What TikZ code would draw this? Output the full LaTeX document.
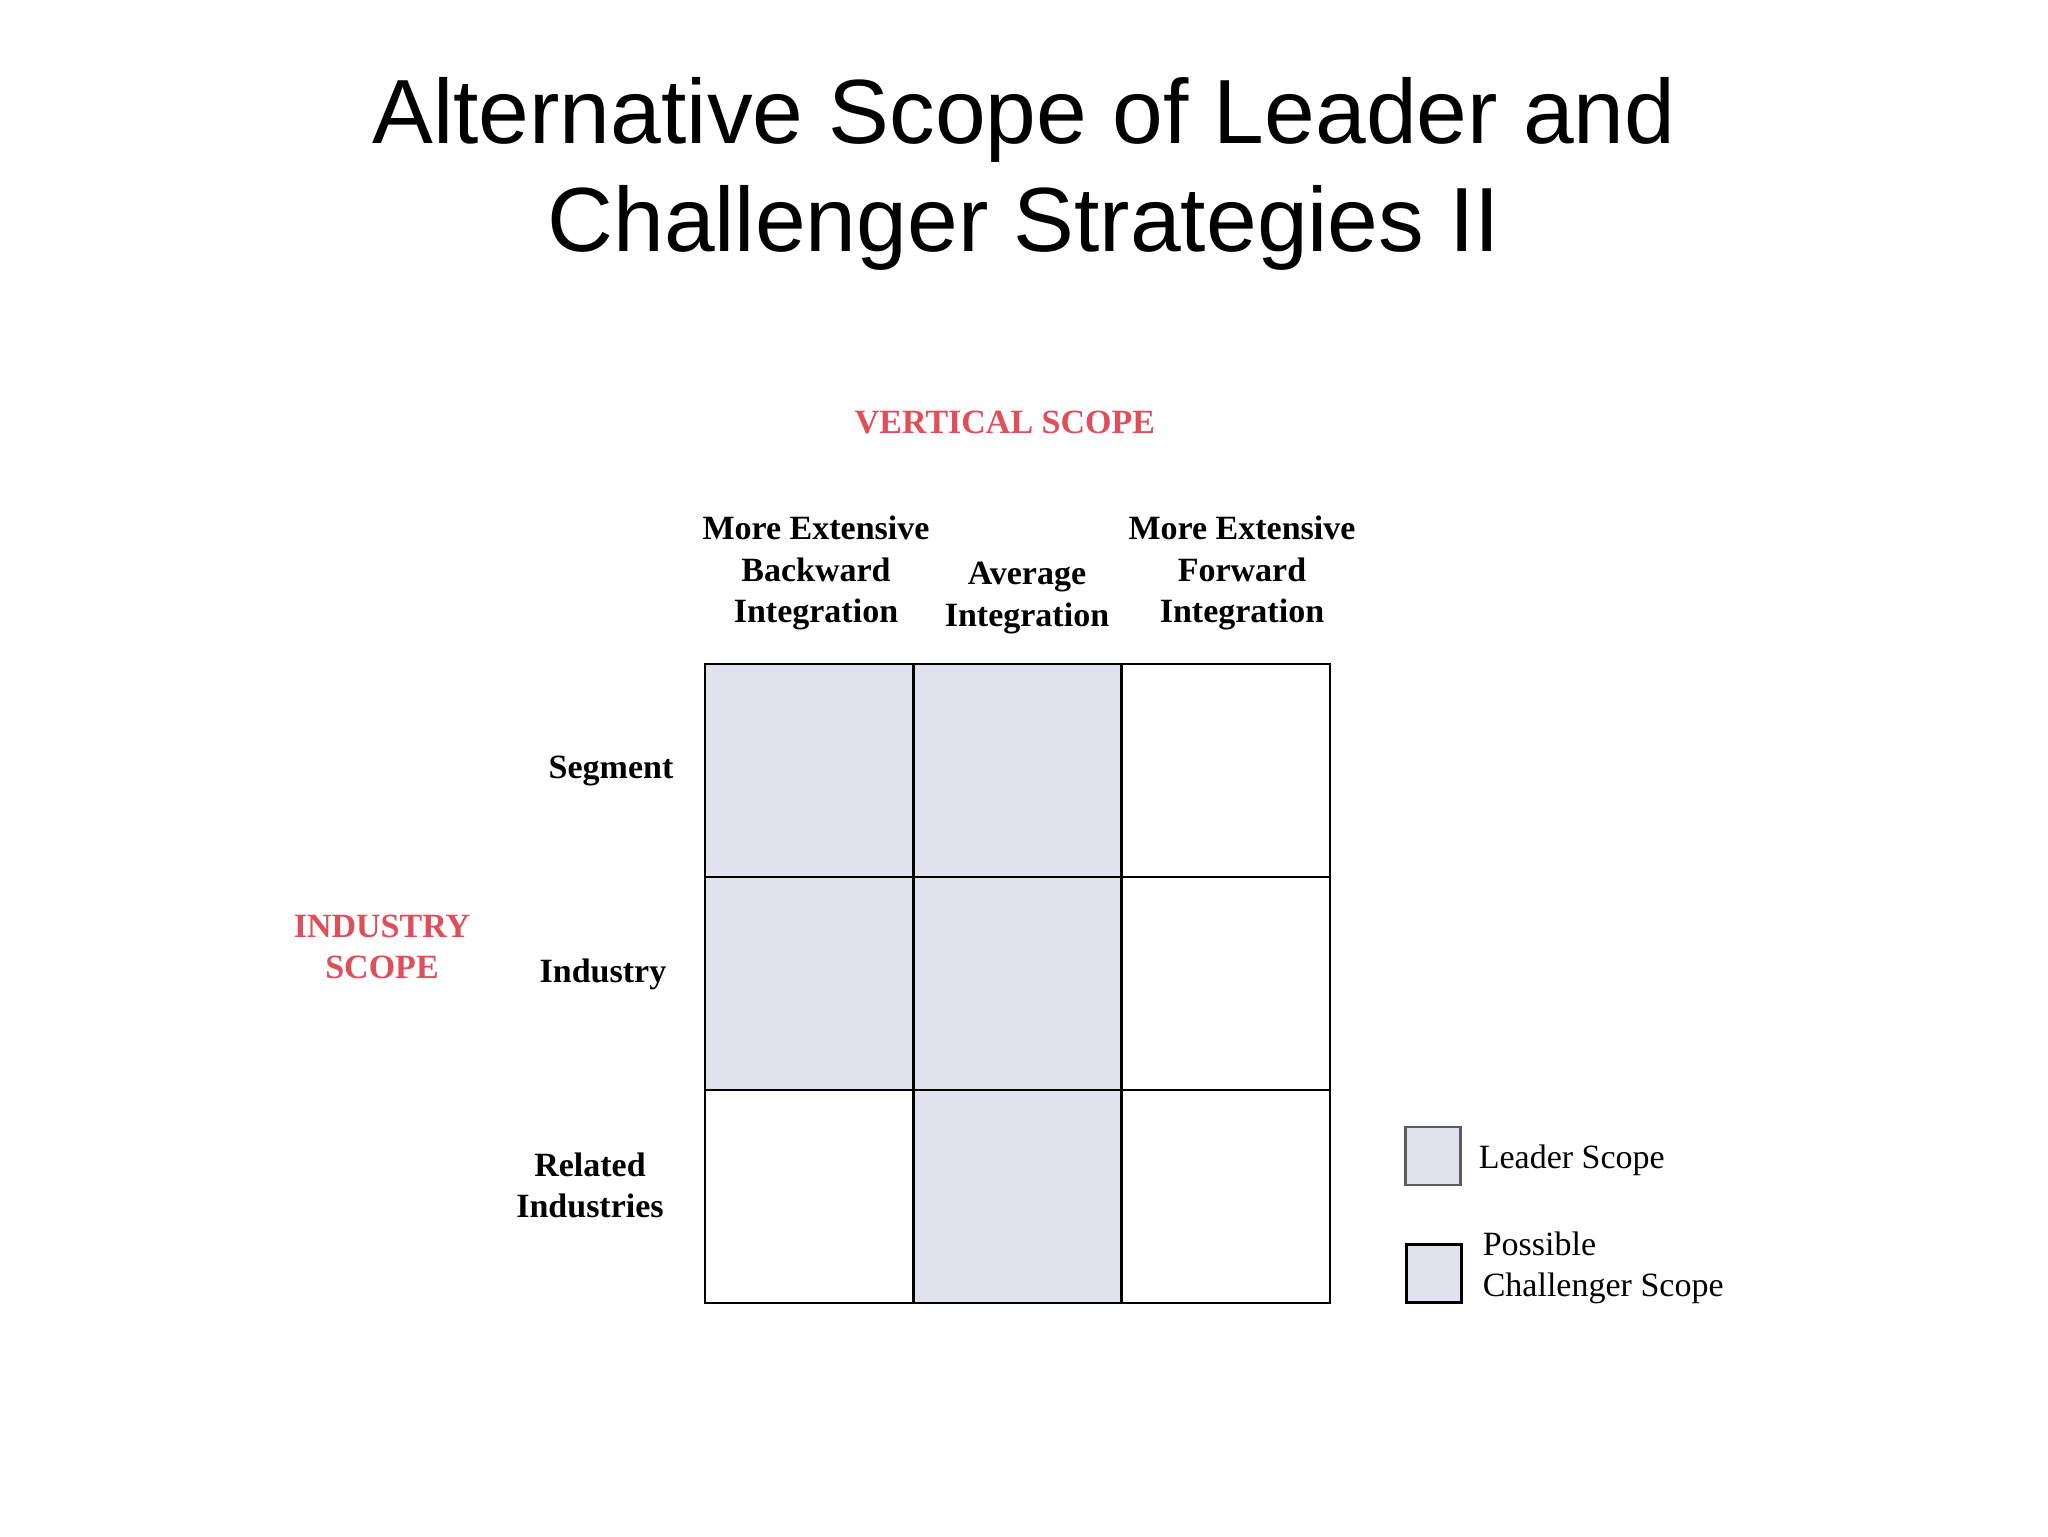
\documentclass[tikz,border=0pt]{standalone}
\usepackage{fontspec}
\setmainfont{Liberation Serif}
\newfontfamily\titlefont{Liberation Sans}
\definecolor{scopered}{HTML}{DE4F5A}
\definecolor{cellfill}{HTML}{E2E1EE}
\definecolor{legendgray}{HTML}{5E5E5E}
\begin{document}
\begin{tikzpicture}[x=0.25pt,y=-0.25pt,
  cellbox/.style={draw=black,line width=0.7pt,minimum width=52.08pt,minimum height=53.25pt,inner sep=0pt,outer sep=0pt},
  shaded/.style={cellbox,fill=cellfill},
  plain/.style={cellbox,fill=white},
  headlbl/.style={font=\fontsize{8.5}{10.3}\selectfont\bfseries,align=center,inner sep=0pt},
  redlbl/.style={font=\fontsize{8.5}{10.3}\selectfont\bfseries,text=scopered,align=center,inner sep=0pt},
  legtext/.style={font=\fontsize{8.5}{10.2}\selectfont,align=left,inner sep=0pt,anchor=west},
  legbox/.style={line width=0.7pt,fill=cellfill,minimum width=13.75pt,minimum height=14.5pt,inner sep=0pt,outer sep=0pt}]
\useasboundingbox[fill=white] (0,0) rectangle (2048,1536);
% title
\node[font=\titlefont\fontsize{22.8}{27}\selectfont,align=center,inner sep=0pt] (title) at (1024,174)
  {Alternative Scope of Leader and\\Challenger Strategies II};
% axis labels
\node[redlbl] (vscope) at (1005,422) {VERTICAL SCOPE};
\node[redlbl] (iscope) at (382,947) {INDUSTRY\\SCOPE};
% column headers
\node[headlbl] (h1) at (816,573) {More Extensive\\Backward\\Integration};
\node[headlbl] (h2) at (1027,598) {Average\\Integration};
\node[headlbl] (h3) at (1242,573) {More Extensive\\Forward\\Integration};
% row headers
\node[headlbl] (r1) at (611,771) {Segment};
\node[headlbl] (r2) at (603,974) {Industry};
\node[headlbl] (r3) at (590,1185) {Related\\Industries};
% grid
\node[shaded] (c11) at (809.2,770.5) {};
\node[shaded] (c12) at (1017.5,770.5) {};
\node[plain]  (c13) at (1225.8,770.5) {};
\node[shaded] (c21) at (809.2,983.5) {};
\node[shaded] (c22) at (1017.5,983.5) {};
\node[plain]  (c23) at (1225.8,983.5) {};
\node[plain]  (c31) at (809.2,1196.5) {};
\node[shaded] (c32) at (1017.5,1196.5) {};
\node[plain]  (c33) at (1225.8,1196.5) {};
% legend
\node[legbox,draw=legendgray] (lb1) at (1433,1156) {};
\node[legtext] (lt1) at (1478,1160) {Leader Scope};
\node[legbox,draw=black] (lb2) at (1434,1273.5) {};
\node[legtext] (lt2) at (1482,1268) {Possible\\Challenger Scope};
\end{tikzpicture}
\end{document}
